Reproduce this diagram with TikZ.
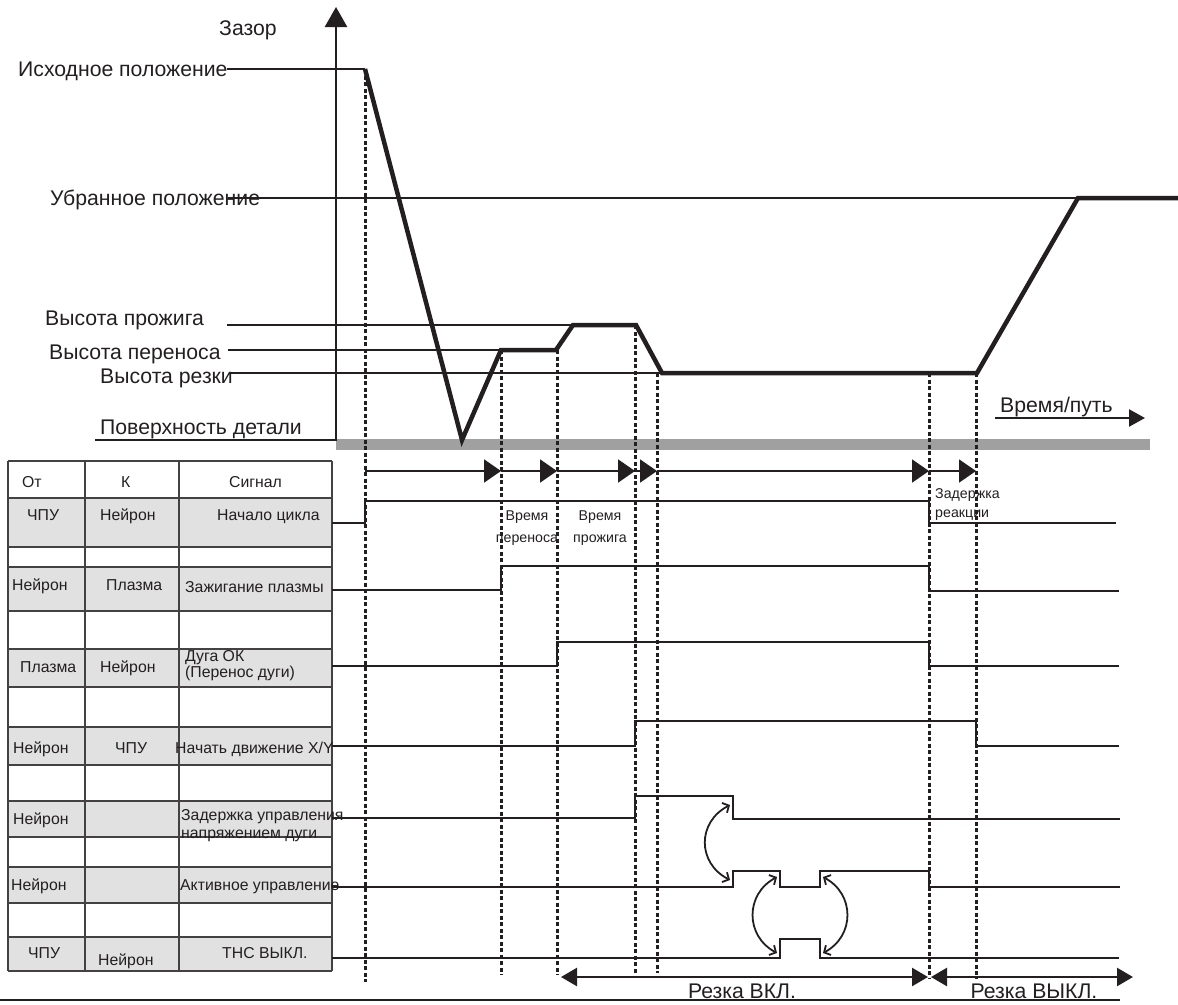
\documentclass[tikz,border=0pt]{standalone}
\usepackage{fontspec}
\setmainfont{Liberation Sans}
\usetikzlibrary{arrows.meta}

\definecolor{ink}{RGB}{35,31,32}
\definecolor{surface}{RGB}{160,160,160}
\definecolor{cellgray}{RGB}{225,225,225}

\tikzset{
  level/.style={ink, line width=2pt},
  profile/.style={ink, line width=4.5pt, line join=miter},
  marker/.style={ink, line width=3pt, dash pattern=on 4pt off 2.5pt},
  signal/.style={ink, line width=2pt},
  grid/.style={ink!85, line width=1.3pt},
  biglabel/.style={ink, font=\fontsize{21.2}{25}\selectfont, inner sep=0pt, anchor=base west},
  cell/.style={ink, font=\fontsize{15.8}{18}\selectfont, inner sep=0pt, anchor=base west},
  note/.style={ink, font=\fontsize{14.2}{16}\selectfont, inner sep=0pt, anchor=base},
  tick/.style={ink, line width=2pt, -{Triangle[length=17pt,width=23pt]}},
  span/.style={ink, line width=2.5pt, {Triangle[length=16pt,width=18pt]}-{Triangle[length=16pt,width=18pt]}},
  swap/.style={ink, line width=1.8pt, {Straight Barb[length=5pt,width=11pt]}-{Straight Barb[length=5pt,width=11pt]}}
}

\begin{document}
\begin{tikzpicture}[x=1pt,y=-1pt]
\useasboundingbox (0,0) rectangle (1178,1004);

% height levels
\node[biglabel] (gap) at (219,35) {Зазор};
\node[biglabel] (home) at (18,76) {Исходное положение};
\node[biglabel] (park) at (50,205) {Убранное положение};
\node[biglabel] (pierce) at (45,325) {Высота прожига};
\node[biglabel] (transfer) at (49,359) {Высота переноса};
\node[biglabel] (cut) at (100,383) {Высота резки};
\node[biglabel] (plate) at (100,434) {Поверхность детали};
\draw[level] (227,69) -- (365,69);
\draw[level] (228,198) -- (1078,198);
\draw[level] (227,325) -- (573,325);
\draw[level] (228,350) -- (501,350);
\draw[level] (230,373) -- (662,373);

% surface and axis
\fill[surface] (336,439) rectangle (1150,450);
\draw[ink, line width=2.5pt, -{Triangle[length=20pt,width=22pt]}] (95,440) -- (336,440) -- (336,7);

% torch height profile
\draw[profile] (365,69) -- (462,440) -- (501,350) -- (556,350) -- (573,325)
  -- (636,325) -- (662,373) -- (977,373) -- (1078,198) -- (1178,198);

% time axis
\node[biglabel] (time) at (1000,412) {Время/путь};
\draw[ink, line width=2.5pt, -{Triangle[length=16pt,width=17pt]}] (995,418) -- (1145,418);

% event markers
\foreach \x/\top/\bot in {365/69/982, 501/350/975, 557/350/975, 635/325/973,
                          657/373/973, 929/373/978, 976/373/978}
  \draw[marker] (\x,\top) -- (\x,\bot);

% step arrows
\foreach \a/\b in {365/501, 501/557, 557/635, 635/657, 657/929, 929/976}
  \draw[tick] (\a,471) -- (\b,471);

\node[note] (tr1) at (527,520) {Время};
\node[note] (tr2) at (527,542) {переноса};
\node[note] (pt1) at (600,520) {Время};
\node[note] (pt2) at (600,542) {прожига};
\node[note, anchor=base west] (rd1) at (935,498) {Задержка};
\node[note, anchor=base west] (rd2) at (935,517) {реакции};

% signal table
\foreach \t/\b in {498/547, 567/611, 649/687, 727/765, 801/837, 867/903, 937/971}
  \fill[cellgray] (8,\t) rectangle (332,\b);
\foreach \y in {461,498,547,567,611,649,687,727,765,801,837,867,903,937,971}
  \draw[grid] (8,\y) -- (332,\y);
\foreach \x in {8,85,179,332}
  \draw[grid] (\x,461) -- (\x,971);

\node[cell] (hfrom) at (22,487) {От};
\node[cell] (hto) at (121,487) {К};
\node[cell] (hsig) at (229,487) {Сигнал};

\node[cell] (f1) at (27,520) {ЧПУ};
\node[cell] (t1) at (100,520) {Нейрон};
\node[cell] (s1) at (217,520) {Начало цикла};

\node[cell] (f2) at (12,590) {Нейрон};
\node[cell] (t2) at (106,590) {Плазма};
\node[cell] (s2) at (185,592) {Зажигание плазмы};

\node[cell] (f3) at (20,672) {Плазма};
\node[cell] (t3) at (100,672) {Нейрон};
\node[cell] (s3a) at (185,661) {Дуга ОК};
\node[cell] (s3b) at (185,677) {(Перенос дуги)};

\node[cell] (f4) at (13,753) {Нейрон};
\node[cell] (t4) at (115,753) {ЧПУ};
\node[cell] (s4) at (175,753) {Начать движение X/Y};

\node[cell] (f5) at (13,824) {Нейрон};
\node[cell] (s5a) at (181,820) {Задержка управления};
\node[cell] (s5b) at (181,838) {напряжением дуги};

\node[cell] (f6) at (11,890) {Нейрон};
\node[cell] (s6) at (180,890) {Активное управление};

\node[cell] (f7) at (28,958) {ЧПУ};
\node[cell] (t7) at (98,965) {Нейрон};
\node[cell] (s7) at (222,958) {ТНС ВЫКЛ.};

% signal traces
\draw[signal] (332,523) -- (365,523) -- (365,501) -- (929,501) -- (929,523) -- (1116,523);
\draw[signal] (332,590) -- (501,590) -- (501,566) -- (929,566) -- (929,591) -- (1119,591);
\draw[signal] (332,666) -- (557,666) -- (557,642) -- (929,642) -- (929,666) -- (1119,666);
\draw[signal] (332,746) -- (635,746) -- (635,721) -- (976,721) -- (976,746) -- (1119,746);
\draw[signal] (332,818) -- (635,818) -- (635,796) -- (733,796) -- (733,819) -- (1120,819);
\draw[signal] (332,887) -- (733,887) -- (733,871) -- (780,871) -- (780,887) -- (820,887)
  -- (820,871) -- (929,871) -- (929,887) -- (1120,887);
\draw[signal] (332,958) -- (780,958) -- (780,939) -- (820,939) -- (820,958) -- (1119,958);

% handover arcs
\draw[swap] (730,805) .. controls (697,822) and (697,863) .. (730,880);
\draw[swap] (777,877) .. controls (745,894) and (745,936) .. (777,953);
\draw[swap] (823,877) .. controls (855,894) and (855,936) .. (823,953);

% cutting phases
\draw[span] (561,977) -- (928,977);
\draw[span] (931,977) -- (1133,977);
\node[biglabel, anchor=base] (cuton) at (742,998) {Резка ВКЛ.};
\node[biglabel, anchor=base] (cutoff) at (1034,998) {Резка ВЫКЛ.};
\draw[ink, line width=2pt] (0,1000) -- (1120,1000);
\end{tikzpicture}
\end{document}
